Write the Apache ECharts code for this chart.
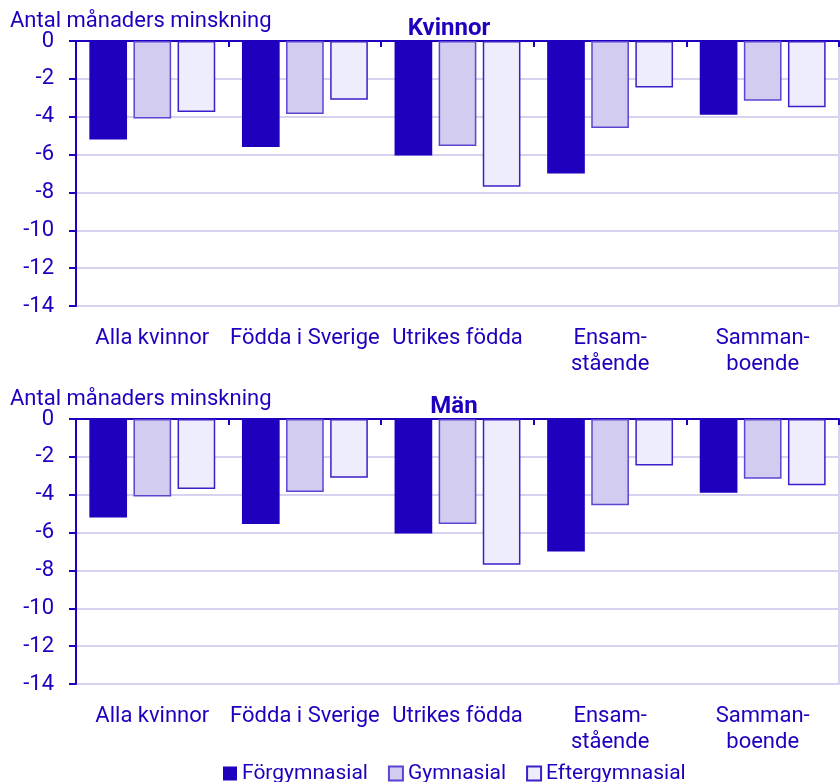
<!DOCTYPE html>
<html>
<head>
<meta charset="utf-8">
<script src="https://cdn.jsdelivr.net/npm/echarts@6/dist/echarts.min.js"></script>
<style>
  html, body { margin: 0; padding: 0; background: #fff; }
  #chart { width: 840px; height: 782px; }
</style>
</head>
<body>
<div id="chart"></div>
<script>
// Categories and group labels
const categories = ['Alla kvinnor', 'Födda i Sverige', 'Utrikes födda', 'Ensam-\nstående', 'Samman-\nboende'];
const seriesNames = ['Förgymnasial', 'Gymnasial', 'Eftergymnasial'];
const yTicks = { min: -14, max: 0, interval: 2 };

// Kvinnor: months of reduction per education level
const kvinnorForgym = [-5.2, -5.6, -6.05, -7.0, -3.9];
const kvinnorGym = [-4.1, -3.85, -5.55, -4.6, -3.15];
const kvinnorEfter = [-3.75, -3.1, -7.7, -2.45, -3.5];

// Män: months of reduction per education level
const manForgym = [-5.2, -5.55, -6.05, -7.0, -3.9];
const manGym = [-4.1, -3.85, -5.55, -4.55, -3.15];
const manEfter = [-3.7, -3.1, -7.7, -2.45, -3.5];

const ink = '#1e00be';
const grid = '#d6d2f0';
const font = 'Roboto';
const fs = 22;

const fills = [
  { color: ink, borderColor: ink, borderWidth: 0 },
  { color: '#d2cdf0', borderColor: '#5a45d2', borderWidth: 1.5 },
  { color: '#eeedfd', borderColor: '#3a1fca', borderWidth: 1.5 }
];

const grids = [
  { left: 76, right: 1, top: 41, height: 265 },
  { left: 76, right: 1, top: 419, height: 265 }
];

function xAxes(gi) {
  return [
    {
      type: 'category', gridIndex: gi, data: categories, position: 'bottom',
      axisLine: { show: false }, axisTick: { show: false },
      axisLabel: { color: ink, fontFamily: font, fontSize: fs, margin: 19, lineHeight: 26, interval: 0 }
    },
    {
      type: 'category', gridIndex: gi, data: categories, position: 'top',
      axisLine: { show: true, lineStyle: { color: ink, width: 2 } },
      axisTick: { show: true, inside: true, length: 6, lineStyle: { color: ink, width: 2 } },
      axisLabel: { show: false }
    }
  ];
}

function yAxes(gi) {
  return [
    {
      type: 'value', gridIndex: gi, min: yTicks.min, max: yTicks.max, interval: yTicks.interval,
      position: 'left',
      axisLine: { show: true, lineStyle: { color: ink, width: 2 } },
      axisTick: { show: true, length: 7, lineStyle: { color: ink, width: 2 } },
      axisLabel: { color: ink, fontFamily: font, fontSize: fs, margin: 22 },
      splitLine: { show: true, lineStyle: { color: grid, width: 2 } }
    },
    {
      type: 'value', gridIndex: gi, min: yTicks.min, max: yTicks.max, interval: yTicks.interval,
      position: 'right',
      axisLine: { show: true, lineStyle: { color: grid, width: 2 } },
      axisTick: { show: false }, axisLabel: { show: false }, splitLine: { show: false }
    }
  ];
}

function bars(gi, values) {
  return values.map((v, i) => ({
    name: seriesNames[i], type: 'bar',
    xAxisIndex: gi * 2, yAxisIndex: gi * 2,
    data: v, barCategoryGap: '17.5%', barGap: '17%',
    itemStyle: fills[i], z: 1
  }));
}

const chart = echarts.init(document.getElementById('chart'), null, { renderer: 'canvas' });
chart.setOption({
  animation: false,
  backgroundColor: '#ffffff',
  textStyle: { fontFamily: font },
  title: [
    { text: 'Antal månaders minskning', left: 5, top: 5, textStyle: { color: ink, fontFamily: font, fontSize: fs, fontWeight: 'normal' } },
    { text: 'Kvinnor', left: 444, top: 12, textAlign: 'center', textStyle: { color: ink, fontFamily: font, fontSize: 24, fontWeight: 'bold' } },
    { text: 'Antal månaders minskning', left: 5, top: 383, textStyle: { color: ink, fontFamily: font, fontSize: fs, fontWeight: 'normal' } },
    { text: 'Män', left: 449, top: 390, textAlign: 'center', textStyle: { color: ink, fontFamily: font, fontSize: 24, fontWeight: 'bold' } }
  ],
  legend: {
    data: seriesNames, top: 758, left: 218, icon: 'rect',
    itemWidth: 14, itemHeight: 14, itemGap: 20,
    textStyle: { color: ink, fontFamily: font, fontSize: 21 }
  },
  grid: grids,
  xAxis: [...xAxes(0), ...xAxes(1)],
  yAxis: [...yAxes(0), ...yAxes(1)],
  series: [
    ...bars(0, [kvinnorForgym, kvinnorGym, kvinnorEfter]),
    ...bars(1, [manForgym, manGym, manEfter])
  ]
});
</script>
</body>
</html>
